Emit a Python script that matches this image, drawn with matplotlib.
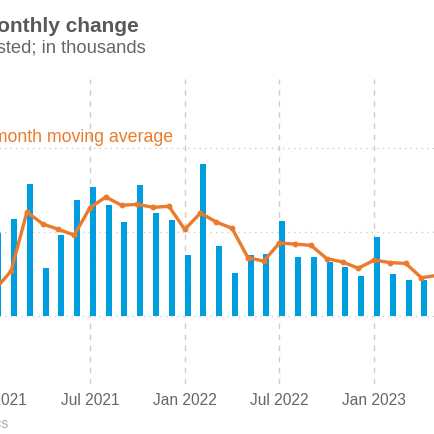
import matplotlib
matplotlib.use("Agg")
import matplotlib.pyplot as plt

# ---- data (thousands) ----
# month index: 0 = Jan 2021
months = list(range(0, 28))
monthly_change = [395, 462, 629, 229, 386, 552, 614, 529, 448, 624, 490, 457,
                  290, 724, 333, 205, 290, 295, 452, 281, 281, 257, 233, 190,
                  376, 200, 171, 171]
ma_months = list(range(0, 29))
moving_avg = [129, 216, 497, 440, 414, 387, 518, 568, 529, 533, 519, 524,
              414, 492, 449, 419, 280, 263, 349, 344, 338, 275, 259, 229,
              268, 256, 252, 184, 195]
tick_pos = [0, 6, 12, 18, 24, 30]
tick_labels = ["Jan 2021", "Jul 2021", "Jan 2022", "Jul 2022", "Jan 2023", "Jul 2023"]
y_grid = [0, 400, 800]

BLUE = "#009ee0"
ORANGE = "#ec7a2c"
GRID = "#cccccc"

plt.rcParams["font.family"] = ["Liberation Sans", "DejaVu Sans"]

W = H = 435
fig = plt.figure(figsize=(W / 100, H / 100), dpi=100)

# axes deliberately wider than the canvas (chart is a crop)
ax = fig.add_axes([-60 / W, 1 - 385 / H, 540 / W, 305 / H])
ax.set_xlim(-3.506, 30.71)
ax.set_ylim(-322, 1130)

bar_offset = 0.18
ax.bar([m + bar_offset for m in months], monthly_change, width=0.38,
       color=BLUE, linewidth=0, zorder=2)
ax.plot(ma_months, moving_avg, color=ORANGE, lw=2.4, marker="o", ms=3.2,
        zorder=3, solid_joinstyle="round")

for v in y_grid:
    ax.axhline(v, color=GRID, lw=1, ls=(0, (1, 3)), zorder=1)
for t in tick_pos:
    ax.axvline(t, color=GRID, lw=1, ls=(0, (4, 4)), zorder=1)

ax.set_xticks(tick_pos)
ax.set_xticklabels(tick_labels, fontsize=11.2, color="#666666")
ax.tick_params(axis="x", length=0, pad=6)
ax.set_yticks([])
for s in ax.spines.values():
    s.set_visible(False)

# texts (left part falls outside the cropped canvas)
fig.text(139 / W, 1 - 31.7 / H, "Nonfarm payrolls, monthly change",
         ha="right", va="baseline", fontsize=15, fontweight="bold",
         color="#58595b")
fig.text(146 / W, 1 - 53 / H, "Seasonally adjusted; in thousands",
         ha="right", va="baseline", fontsize=13.2, color="#666666")
fig.text(173 / W, 1 - 141.7 / H, "3-month moving average",
         ha="right", va="baseline", fontsize=12.8, color=ORANGE)
fig.text(8 / W, 1 - 428 / H, "Source: U.S. Bureau of Labor Statistics",
         ha="right", va="baseline", fontsize=10, color="#aaaaaa")

fig.savefig("out.png", dpi=100)
